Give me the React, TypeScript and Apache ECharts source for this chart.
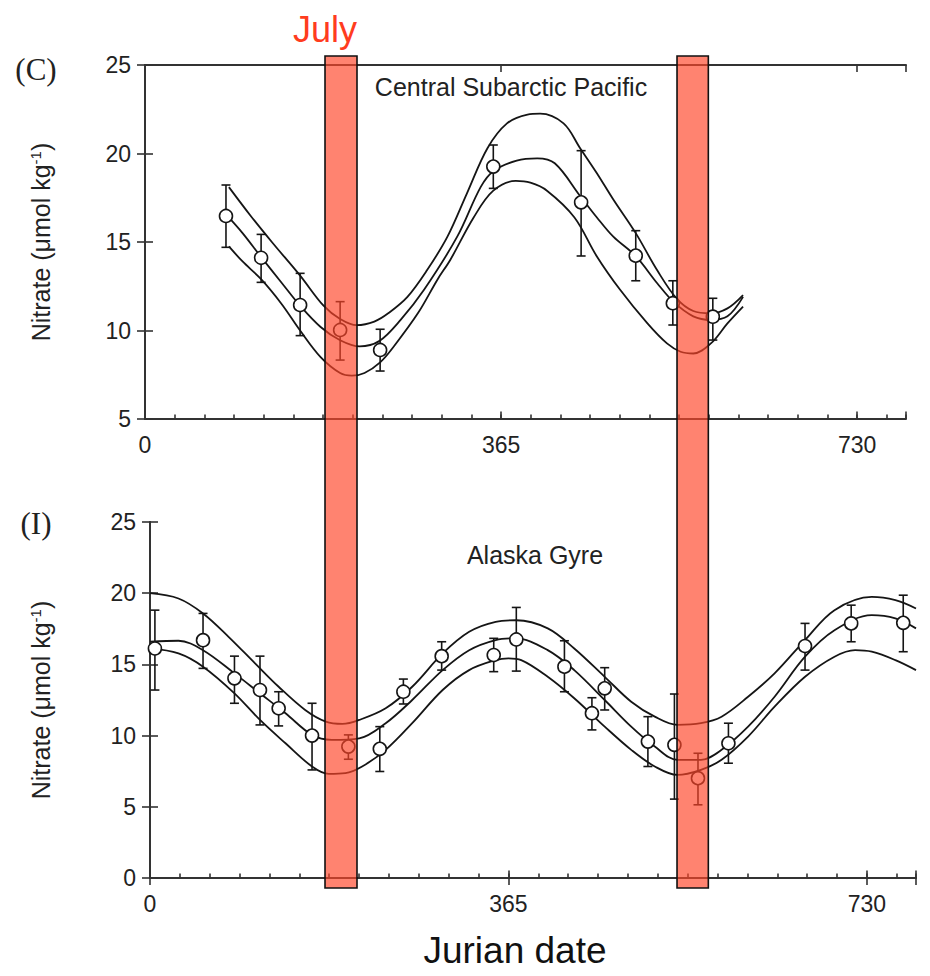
import React, { useEffect, useRef } from 'react';
import * as echarts from 'echarts';

// ---------- data ----------
const xTickLabels = [0, 365, 730];
const monthStep = 365 / 12;

// Panel C – Central Subarctic Pacific (observations)
const topDays = [83, 119, 159, 200, 241, 357, 447, 503, 541, 582];
const topMean = [16.47, 14.11, 11.44, 10.03, 8.9, 19.26, 17.24, 14.23, 11.54, 10.78];
const topHi = [18.22, 15.43, 13.23, 11.63, 10.07, 20.48, 20.16, 15.64, 12.81, 11.82];
const topLo = [14.7, 12.72, 9.71, 8.33, 7.71, 18.03, 14.21, 12.81, 10.31, 9.46];

// Panel C – fitted curves [day, value]
const topUpper = [
  [86, 18.1], [108, 16.5], [130, 15.0], [159, 13.1], [183, 11.4], [200, 10.65], [217, 10.3], [235, 10.5],
  [250, 11.0], [269, 11.9], [289, 13.4], [310, 15.3], [330, 17.75], [351, 20.3], [371, 21.7], [392, 22.2],
  [405, 22.25], [429, 21.7], [446, 20.3], [463, 18.9], [480, 17.4], [503, 15.5], [525, 13.4], [545, 11.8],
  [562, 11.1], [580, 10.97], [597, 11.25], [613, 12.0],
];
const topMiddle = [
  [84, 16.5], [100, 15.5], [119, 14.15], [140, 12.7], [159, 11.4], [180, 10.2], [200, 9.45], [220, 9.1],
  [240, 9.4], [262, 10.6], [286, 12.3], [320, 15.3], [344, 18.1], [357, 19.0], [381, 19.6], [402, 19.73],
  [420, 19.45], [446, 17.6], [463, 16.4], [480, 15.3], [503, 14.2], [525, 12.67], [542, 11.6], [562, 10.8],
  [580, 10.6], [597, 10.8], [613, 11.9],
];
const topLower = [
  [86, 14.75], [100, 13.9], [119, 12.9], [140, 11.5], [159, 10.0], [180, 8.5], [200, 7.6], [212, 7.45],
  [225, 7.6], [241, 8.2], [255, 9.1], [280, 11.0], [300, 12.9], [313, 14.0], [337, 16.4], [357, 17.9],
  [380, 18.45], [395, 18.35], [412, 17.9], [440, 16.4], [463, 14.2], [487, 12.3], [515, 10.4], [535, 9.27],
  [549, 8.8], [562, 8.7], [580, 9.27], [597, 10.4], [613, 11.35],
];

// Panel I – Alaska Gyre (observations)
const botDays = [5, 54, 86, 112, 131, 165, 202, 234, 258, 297, 350, 373, 422, 450, 463, 507, 534, 558, 589, 667, 714, 767];
const botMean = [16.12, 16.7, 14.02, 13.2, 11.92, 10.0, 9.23, 9.07, 13.08, 15.58, 15.66, 16.75, 14.84, 11.57, 13.32, 9.58, 9.35, 7.01, 9.46, 16.29, 17.88, 17.92];
const botHi = [18.81, 18.58, 15.58, 15.58, 13.08, 12.27, 10.05, 10.63, 13.97, 16.59, 16.83, 19.0, 16.66, 12.66, 14.77, 11.33, 12.92, 8.76, 10.87, 17.88, 19.16, 19.86];
const botLo = [13.2, 14.72, 12.27, 10.75, 10.68, 7.59, 8.34, 7.48, 12.22, 14.6, 14.49, 14.53, 13.08, 10.4, 11.8, 7.83, 5.54, 5.14, 8.06, 14.6, 16.59, 15.89];

// Panel I – fitted curves [day, value]
const botUpper = [
  [0, 20.0], [29, 19.63], [54, 18.58], [80, 16.94], [107, 15.07], [131, 13.43], [158, 11.8], [179, 10.98],
  [196, 10.82], [213, 11.1], [240, 11.92], [267, 13.43], [298, 15.77], [325, 17.29], [352, 17.99], [373, 18.1],
  [405, 17.53], [432, 16.12], [463, 14.13], [490, 12.38], [514, 11.33], [537, 10.75], [561, 10.87], [582, 11.33],
  [609, 12.73], [636, 14.37], [667, 16.71], [697, 18.81], [735, 19.74], [759, 19.51], [780, 18.93],
];
const botMiddle = [
  [0, 16.6], [29, 16.66], [54, 16.0], [86, 14.37], [112, 12.97], [138, 11.57], [165, 10.05], [185, 9.7],
  [213, 9.81], [240, 10.87], [267, 12.5], [298, 14.6], [325, 16.0], [352, 16.71], [372, 16.83], [405, 16.0],
  [432, 14.6], [463, 12.5], [490, 10.63], [514, 9.23], [537, 8.3], [561, 8.3], [582, 9.0], [609, 10.63],
  [636, 12.73], [667, 15.54], [697, 17.4], [735, 18.46], [759, 18.23], [780, 17.53],
];
const botLower = [
  [0, 16.12], [29, 15.77], [54, 14.84], [86, 12.97], [112, 11.1], [138, 9.46], [165, 7.83], [182, 7.31],
  [199, 7.36], [216, 7.83], [240, 9.0], [267, 10.87], [298, 13.2], [325, 14.6], [352, 15.3], [365, 15.42],
  [378, 15.3], [405, 14.13], [432, 12.62], [463, 10.63], [490, 9.0], [514, 7.83], [537, 7.24], [561, 7.6],
  [582, 8.3], [609, 9.93], [636, 12.03], [667, 14.13], [697, 15.54], [718, 16.0], [735, 15.89], [759, 15.3],
  [780, 14.6],
];

// July highlight bands (day ranges on the day axis)
const bandDays = [[184.5, 217.3], [545.3, 577.4]];

// ---------- styling ----------
const SANS = 'Liberation Sans, Arial, Helvetica, sans-serif';
const SERIF = 'Liberation Serif, Times New Roman, serif';
const AXIS_COLOR = '#333';
const INK = '#151515';

const G0 = { left: 145, top: 65, width: 761, height: 354 };
const G1 = { left: 150, top: 522, width: 766, height: 356 };

function xAxes(gridIndex: number) {
  const line = { show: true, lineStyle: { color: AXIS_COLOR, width: 2 } };
  const tickStyle = { color: AXIS_COLOR, width: 1.6 };
  return [
    {
      type: 'value', gridIndex, position: 'bottom', min: 0, max: 780, interval: monthStep,
      axisLine: line,
      axisTick: { show: true, inside: true, length: 4.5, lineStyle: tickStyle },
      axisLabel: {
        margin: 14, fontSize: 23, color: '#222', fontFamily: SANS,
        formatter: (v: number) => {
          const r = Math.round(v);
          return xTickLabels.includes(r) && Math.abs(v - r) < 0.5 ? String(r) : '';
        },
      },
      splitLine: { show: false },
    },
    {
      type: 'value', gridIndex, position: 'top', min: 0, max: 780, interval: 365,
      axisLine: line,
      axisTick: { show: true, inside: true, length: 7, lineStyle: tickStyle },
      axisLabel: { show: false },
      splitLine: { show: false },
    },
    {
      // longer yearly ticks on the bottom axis
      type: 'value', gridIndex, position: 'bottom', offset: 0, min: 0, max: 780, interval: 365,
      axisLine: { show: false },
      axisTick: { show: true, inside: true, length: 7.5, lineStyle: tickStyle },
      axisLabel: { show: false },
      splitLine: { show: false },
    },
  ];
}

function yAxes(gridIndex: number, min: number, nameGap: number) {
  const line = { show: true, lineStyle: { color: AXIS_COLOR, width: 2 } };
  const tick = { show: true, inside: true, length: 8, lineStyle: { color: AXIS_COLOR, width: 1.6 } };
  return [
    {
      type: 'value', gridIndex, position: 'left', min, max: 25, interval: 5,
      axisLine: line, axisTick: tick,
      axisLabel: { margin: 14, fontSize: 23, color: '#222', fontFamily: SANS },
      splitLine: { show: false },
      name: 'Nitrate (μmol kg{sup|-1})',
      nameLocation: 'middle', nameRotate: 90, nameGap,
      nameTextStyle: {
        fontSize: 25, color: '#222', fontFamily: SANS,
        rich: { sup: { fontSize: 15, verticalAlign: 'top', color: '#222', fontFamily: SANS } },
      },
    },
    {
      type: 'value', gridIndex, position: 'right', min, max: 25, interval: 5,
      axisLine: line, axisTick: tick, axisLabel: { show: false }, splitLine: { show: false },
    },
  ];
}

function panelSeries(
  xi: number, yi: number, curves: number[][][], days: number[], mean: number[], lo: number[], hi: number[],
) {
  const lines = curves.map((c) => ({
    type: 'line', xAxisIndex: xi, yAxisIndex: yi, data: c, smooth: 0.35, showSymbol: false,
    symbol: 'none', lineStyle: { color: INK, width: 1.8 }, silent: true, z: 2,
  }));
  const err = {
    type: 'custom', xAxisIndex: xi, yAxisIndex: yi, z: 3, silent: true,
    data: days.map((d, i) => [d, lo[i], hi[i]]),
    encode: { x: 0, y: [1, 2] },
    renderItem: (_p: any, api: any) => {
      const x = api.value(0);
      const a = api.coord([x, api.value(2)]);
      const b = api.coord([x, api.value(1)]);
      const w = 4.5;
      const st = { stroke: INK, lineWidth: 1.6 };
      return {
        type: 'group',
        children: [
          { type: 'line', shape: { x1: a[0], y1: a[1], x2: b[0], y2: b[1] }, style: st },
          { type: 'line', shape: { x1: a[0] - w, y1: a[1], x2: a[0] + w, y2: a[1] }, style: st },
          { type: 'line', shape: { x1: b[0] - w, y1: b[1], x2: b[0] + w, y2: b[1] }, style: st },
        ],
      };
    },
  };
  const pts = {
    type: 'scatter', xAxisIndex: xi, yAxisIndex: yi, z: 4, silent: true,
    data: days.map((d, i) => [d, mean[i]]),
    symbol: 'circle', symbolSize: 13,
    itemStyle: { color: '#fff', borderColor: INK, borderWidth: 1.6, opacity: 1 },
  };
  return [...lines, err, pts];
}

export default function App() {
  const ref = useRef<HTMLDivElement>(null);
  useEffect(() => {
    document.body.style.margin = '0';
    const chart = echarts.init(ref.current as HTMLDivElement, null, { renderer: 'svg' });
    const option: any = {
      animation: false,
      backgroundColor: '#fff',
      grid: [
        { left: G0.left, top: G0.top, width: G0.width, height: G0.height },
        { left: G1.left, top: G1.top, width: G1.width, height: G1.height },
      ],
      xAxis: [...xAxes(0), ...xAxes(1)],
      yAxis: [...yAxes(0, 5, 92), ...yAxes(1, 0, 97)],
      series: [
        ...panelSeries(0, 0, [topUpper, topMiddle, topLower], topDays, topMean, topLo, topHi),
        ...panelSeries(3, 2, [botUpper, botMiddle, botLower], botDays, botMean, botLo, botHi),
      ],
    };
    chart.setOption(option);

    const bandTop = G0.top - 9;
    const bandBottom = G1.top + G1.height + 10;
    const bands = bandDays.map(([a, b]) => {
      const x0 = chart.convertToPixel({ xAxisIndex: 0 }, a) as number;
      const x1 = chart.convertToPixel({ xAxisIndex: 0 }, b) as number;
      return {
        type: 'rect', z: 100,
        shape: { x: x0, y: bandTop, width: x1 - x0, height: bandBottom - bandTop },
        style: { fill: 'rgba(255,70,42,0.67)', stroke: '#111', lineWidth: 1.6 },
      };
    });
    const txt = (text: string, x: number, y: number, size: number, color: string, font: string, align = 'center') => ({
      type: 'text', z: 101, x, y,
      style: { text, fontSize: size, fill: color, fontFamily: font, textAlign: align, textVerticalAlign: 'middle' },
    });
    chart.setOption({
      graphic: [
        ...bands,
        txt('July', 325, 29, 36, '#FF3C1E', SANS),
        txt('Jurian date', 515, 950, 37, '#111', SANS),
        txt('(C)', 36, 69, 31, '#222', SERIF),
        txt('(I)', 36, 523, 31, '#222', SERIF),
        txt('Central Subarctic Pacific', 511, 87, 25, '#222', SANS),
        txt('Alaska Gyre', 535, 555, 25, '#222', SANS),
      ],
    });
    return () => chart.dispose();
  }, []);
  return <div ref={ref} style={{ width: 930, height: 976 }} />;
}
